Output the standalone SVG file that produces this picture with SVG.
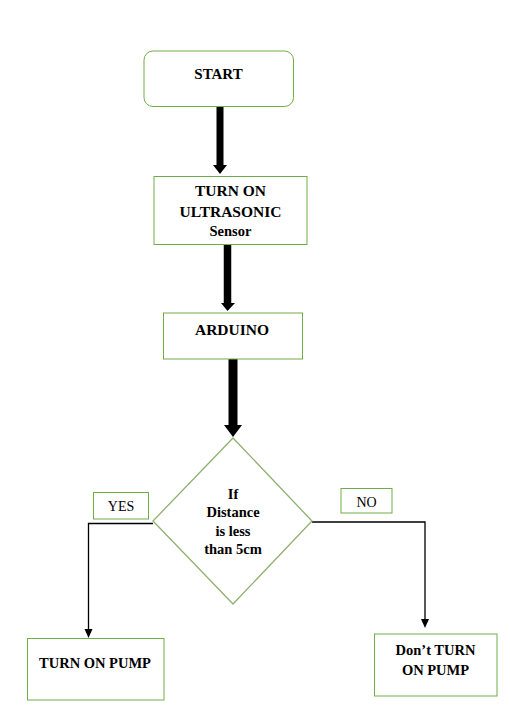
<svg xmlns="http://www.w3.org/2000/svg" width="510" height="721" viewBox="0 0 510 721">
<style>
.box{fill:#fff;stroke:#70ad47;stroke-width:1}
.dia{fill:#fff;stroke:#8fb070;stroke-width:1.3}
.t{font-family:"Liberation Serif","Times New Roman",serif;font-weight:bold;font-size:15.5px;fill:#000;text-anchor:middle}
.s{font-size:14.5px}
.lbl{font-family:"Liberation Serif","Times New Roman",serif;font-size:14px;fill:#000;text-anchor:middle}
.thin{fill:none;stroke:#000;stroke-width:1.3}
.thick{fill:none;stroke:#000}
</style>
<rect width="510" height="721" fill="#fff"/>
<g id="connectors">
<line class="thick" x1="220" y1="107" x2="220" y2="166" stroke-width="7"/>
<polygon points="213,165 227,165 220,174"/>
<line class="thick" x1="227.5" y1="245" x2="227.5" y2="304" stroke-width="7.5"/>
<polygon points="221,303 235,303 227.5,311"/>
<line class="thick" x1="233" y1="359" x2="233" y2="426" stroke-width="9"/>
<polygon points="224,425 242,425 233,437"/>
<polyline class="thin" points="153,523.5 88.5,523.5 88.5,631"/>
<polygon points="84.5,629 92.5,629 88.5,638"/>
<polyline class="thin" points="312,522 425,522 425,621"/>
<polygon points="421,619 429,619 425,628"/>
</g>
<g id="start">
<rect class="box" x="144" y="51" width="149.5" height="55.5" rx="9"/>
<text class="t" x="218.5" y="79" style="font-size:15px">START</text>
</g>
<g id="sensor">
<rect class="box" x="154" y="176.5" width="153" height="68"/>
<text class="t" x="230.5" y="196">TURN ON</text>
<text class="t" x="230.5" y="217">ULTRASONIC</text>
<text class="t s" x="230.5" y="236">Sensor</text>
</g>
<g id="arduino">
<rect class="box" x="163.5" y="313" width="139" height="46"/>
<text class="t" x="232" y="335">ARDUINO</text>
</g>
<g id="decision">
<polygon class="dia" points="233,438 312,521 233,604 153,521"/>
<text class="t s" x="233" y="499">If</text>
<text class="t s" x="233" y="517">Distance</text>
<text class="t s" x="233" y="536">is less</text>
<text class="t s" x="233" y="554">than 5cm</text>
</g>
<g id="yes">
<rect class="box" x="93.5" y="492.5" width="55" height="26.5"/>
<text class="lbl" x="121" y="511">YES</text>
</g>
<g id="no">
<rect class="box" x="341" y="488.5" width="51" height="24.5"/>
<text class="lbl" x="366.5" y="507">NO</text>
</g>
<g id="pump-on">
<rect class="box" x="27.5" y="638.5" width="136.5" height="61.5"/>
<text class="t s" x="95" y="668">TURN ON PUMP</text>
</g>
<g id="pump-off">
<rect class="box" x="374.5" y="634" width="122.5" height="62"/>
<text class="t s" x="435.5" y="655">Don’t TURN</text>
<text class="t s" x="435.5" y="675">ON PUMP</text>
</g>
</svg>
